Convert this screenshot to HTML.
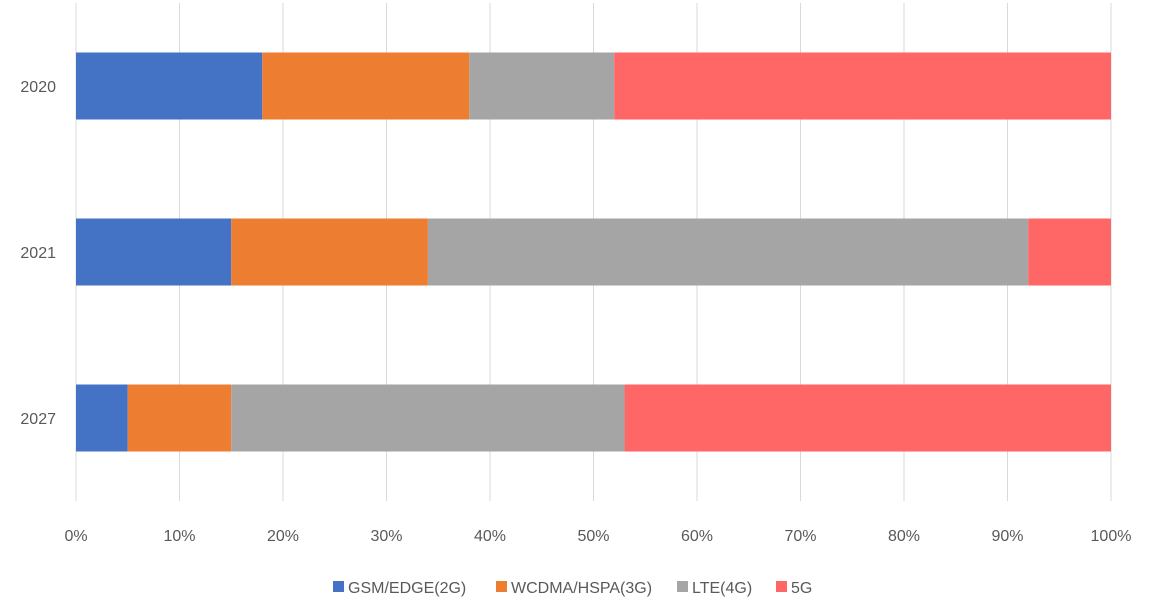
<!DOCTYPE html>
<html><head><meta charset="utf-8"><style>
body{margin:0;background:#fff;font-family:"Liberation Sans",sans-serif;}
svg text{font-family:"Liberation Sans",sans-serif;fill:#595959;font-size:16px;}
</style></head><body>
<svg id="chart" width="1149" height="603"></svg>
<script>
const categories=["2020","2021","2027"];
const seriesNames=["GSM/EDGE(2G)","WCDMA/HSPA(3G)","LTE(4G)","5G"];
const gsm=[18,15,5];
const wcdma=[20,19,10];
const lte=[14,58,38];
const fiveG=[48,8,47];
const tickLabels=["0%","10%","20%","30%","40%","50%","60%","70%","80%","90%","100%"];
const colors=["#4472C4","#ED7D31","#A5A5A5","#FF6666"];
const series=[gsm,wcdma,lte,fiveG];
const NS="http://www.w3.org/2000/svg";
const svgEl=document.getElementById('chart');
const plotX0=76,plotX1=1111,plotTop=3,plotBottom=501;
const xs=v=>plotX0+(plotX1-plotX0)*v/100;
const band=(plotBottom-plotTop)/categories.length;
const yc=i=>plotTop+band*(i+0.5);
const barH=67;
function mk(t,a){const e=document.createElementNS(NS,t);for(const k in a)e.setAttribute(k,a[k]);svgEl.appendChild(e);return e;}
tickLabels.forEach((t,i)=>{
  const x=xs(i*10);
  const g=mk('line',{x1:x,x2:x,y1:plotTop,y2:plotBottom,stroke:'#d9d9d9','stroke-width':1});
  
  
  const tx=mk('text',{x:x,y:541,'text-anchor':'middle'});tx.textContent=t;
  
  
});
categories.forEach((c,i)=>{
  let acc=0;
  series.forEach((s,j)=>{
    const r=mk('rect',{x:xs(acc),y:yc(i)-barH/2,width:xs(acc+s[i])-xs(acc),height:barH,fill:colors[j]});
    
    
    acc+=s[i];
  });
  const t=mk('text',{x:56,y:yc(i)+6,'text-anchor':'end'});t.textContent=c;
  
  
});
const legX=[333,496,677,776];
seriesNames.forEach((n,j)=>{
  const r=mk('rect',{x:legX[j],y:581,width:11,height:11,fill:colors[j]});
  
  
  const t=mk('text',{x:legX[j]+15,y:593});t.textContent=n;
  
  
});
</script>
</body></html>
